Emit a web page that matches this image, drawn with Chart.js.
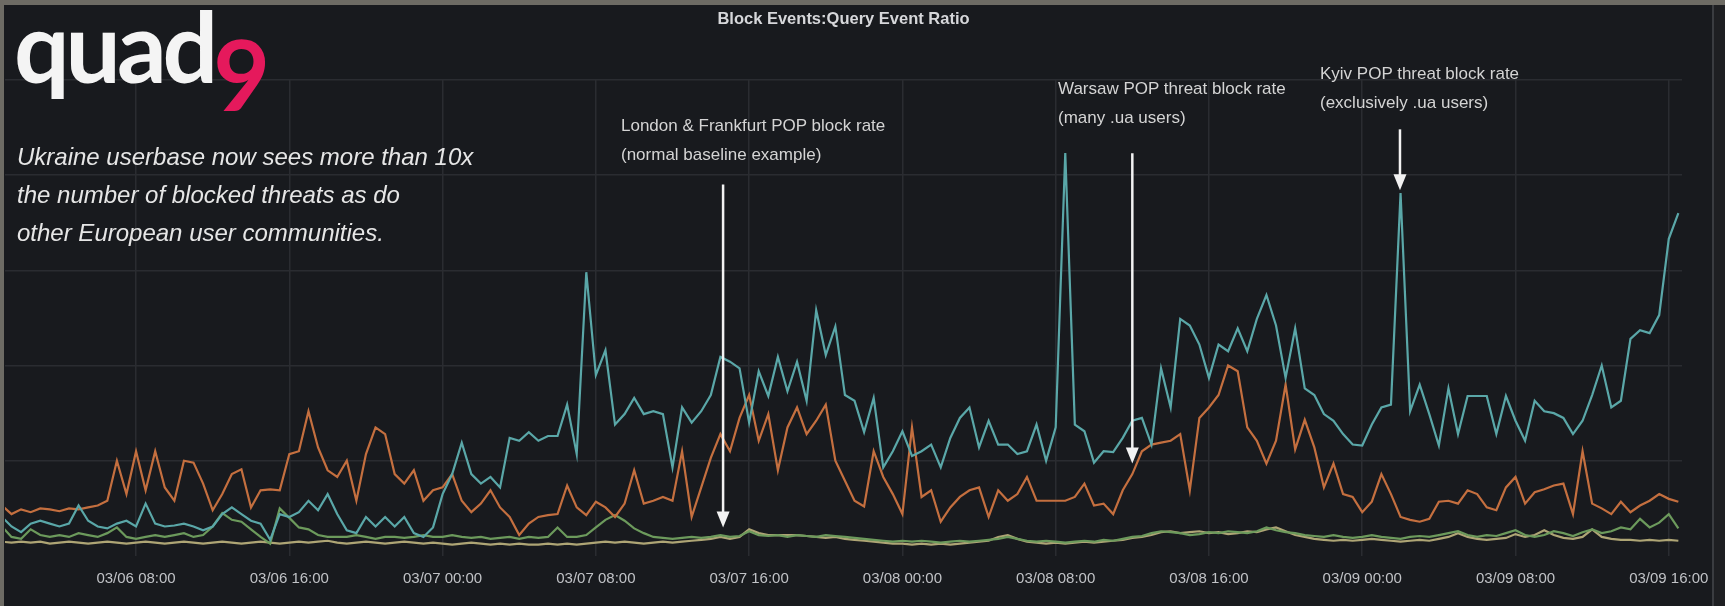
<!DOCTYPE html>
<html>
<head>
<meta charset="utf-8">
<script src="https://cdn.jsdelivr.net/npm/chart.js@4.4.1/dist/chart.umd.min.js"></script>
<style>
  html, body { margin: 0; padding: 0; }
  body { width: 1725px; height: 606px; overflow: hidden; background: #6d6b64; position: relative; }
  #panel { position: absolute; left: 0; top: 0; width: 1725px; height: 606px; background: #181a1e; }
  #edgeTop { position: absolute; left: 0; top: 0; width: 1725px; height: 5px; background: #6d6b64; z-index: 3; }
  #edgeLeft { position: absolute; left: 0; top: 0; width: 4px; height: 606px; background: #6d6b64; z-index: 3; }
  #edgeRight { position: absolute; left: 1712px; top: 5px; width: 2px; height: 601px; background: #3a3c40; z-index: 3; }
  #edgeRight2 { position: absolute; left: 1714px; top: 5px; width: 11px; height: 601px; background: #1e1f22; z-index: 3; }
  .txt { position: absolute; z-index: 4; white-space: nowrap; }
  #logo { left: 14px; top: -14px; font-family: Lato, sans-serif; font-weight: 700; font-size: 98px; color: #f4f4f4; letter-spacing: -4px; }
  #logo span { color: #e5195c; position: relative; top: 28px; margin-left: -1px; }
  #blurb { left: 17px; top: 138px; font-family: "Liberation Sans", Arial, sans-serif; font-style: italic; font-size: 24px; line-height: 38px; color: #e6e6e6; }
  .note { font-family: "Liberation Sans", Arial, sans-serif; font-size: 17px; line-height: 29px; color: #d4d4d4; }
  #chartBox { position: absolute; left: 0; top: 0; width: 1725px; height: 606px; }
</style>
</head>
<body>
<div id="panel"></div>
<div id="chartBox"><canvas id="ratioChart"></canvas></div>
<div id="edgeTop"></div>
<div id="edgeLeft"></div>
<div id="edgeRight"></div>
<div id="edgeRight2"></div>

<div class="txt" id="logo">quad<span>9</span></div>
<div class="txt" id="blurb">Ukraine userbase now sees more than 10x<br>the number of blocked threats as do<br>other European user communities.</div>
<div class="txt note" style="left:621px; top:111px;">London &amp; Frankfurt POP block rate<br>(normal baseline example)</div>
<div class="txt note" style="left:1058px; top:74px;">Warsaw POP threat block rate<br>(many .ua users)</div>
<div class="txt note" style="left:1320px; top:59px;">Kyiv POP threat block rate<br>(exclusively .ua users)</div>

<script>
// samples every 30 min, first one at 03/06 01:00 (hours counted from 03/06 00:00)
const START_HOUR = 1.0;
const STEP_HOURS = 0.5;

// Kyiv POP (teal)
const kyivRatio = [
  0.41, 0.31, 0.25, 0.34, 0.37, 0.34, 0.31, 0.34, 0.53, 0.37,
  0.31, 0.29, 0.34, 0.37, 0.31, 0.55, 0.34, 0.31, 0.32, 0.34,
  0.31, 0.27, 0.31, 0.44, 0.51, 0.44, 0.37, 0.34, 0.17, 0.44,
  0.41, 0.46, 0.58, 0.48, 0.65, 0.44, 0.27, 0.24, 0.41, 0.31,
  0.41, 0.31, 0.41, 0.24, 0.2, 0.3, 0.65, 0.86, 1.19, 0.86,
  0.76, 0.83, 0.72, 1.24, 1.21, 1.3, 1.21, 1.26, 1.26, 1.59,
  1.07, 2.98, 1.9, 2.16, 1.38, 1.49, 1.66, 1.49, 1.52, 1.49,
  0.93, 1.56, 1.4, 1.52, 1.69, 2.09, 2.04, 1.97, 1.4, 1.94,
  1.68, 2.09, 1.73, 2.04, 1.63, 2.58, 2.11, 2.41, 1.69, 1.63,
  1.3, 1.66, 0.93, 1.1, 1.31, 1.05, 1.1, 1.17, 0.93, 1.24,
  1.45, 1.56, 1.14, 1.42, 1.17, 1.17, 1.07, 1.1, 1.38, 1.0,
  1.35, 4.23, 1.38, 1.31, 0.98, 1.1, 1.09, 1.24, 1.42, 1.45,
  1.17, 1.97, 1.56, 2.49, 2.42, 2.22, 1.87, 2.22, 2.15, 2.39,
  2.15, 2.49, 2.74, 2.42, 1.87, 2.39, 1.76, 1.69, 1.49, 1.42,
  1.28, 1.17, 1.16, 1.38, 1.56, 1.59, 3.81, 1.52, 1.8, 1.49,
  1.16, 1.76, 1.28, 1.68, 1.68, 1.68, 1.28, 1.68, 1.42, 1.21,
  1.63, 1.52, 1.5, 1.45, 1.28, 1.42, 1.69, 2.0, 1.56, 1.63,
  2.28, 2.37, 2.34, 2.53, 3.33, 3.6
];

// Warsaw POP (orange)
const warsawRatio = [
  0.53, 0.44, 0.49, 0.46, 0.5, 0.49, 0.47, 0.5, 0.49, 0.51,
  0.53, 0.58, 1.0, 0.65, 1.1, 0.69, 1.1, 0.72, 0.58, 1.0,
  0.98, 0.76, 0.48, 0.65, 0.86, 0.91, 0.51, 0.69, 0.7, 0.69,
  1.07, 1.1, 1.52, 1.14, 0.9, 0.83, 1.0, 0.58, 1.07, 1.35,
  1.28, 0.86, 0.76, 0.9, 0.58, 0.69, 0.72, 0.86, 0.58, 0.46,
  0.55, 0.69, 0.51, 0.41, 0.22, 0.34, 0.41, 0.43, 0.44, 0.74,
  0.51, 0.43, 0.57, 0.51, 0.41, 0.55, 0.9, 0.55, 0.58, 0.62,
  0.58, 1.1, 0.41, 0.72, 1.03, 1.28, 1.1, 1.45, 1.69, 1.21,
  1.49, 0.9, 1.35, 1.56, 1.28, 1.42, 1.59, 1.0, 0.79, 0.58,
  0.52, 1.1, 0.83, 0.65, 0.44, 1.35, 0.62, 0.69, 0.36, 0.51,
  0.62, 0.69, 0.72, 0.41, 0.69, 0.58, 0.65, 0.83, 0.58, 0.58,
  0.58, 0.58, 0.62, 0.76, 0.53, 0.55, 0.44, 0.69, 0.86, 1.1,
  1.17, 1.19, 1.21, 1.28, 0.69, 1.45, 1.56, 1.69, 2.0, 1.94,
  1.35, 1.21, 0.97, 1.21, 1.8, 1.12, 1.43, 1.14, 0.72, 0.97,
  0.65, 0.62, 0.46, 0.57, 0.86, 0.65, 0.41, 0.38, 0.36, 0.39,
  0.57, 0.58, 0.55, 0.69, 0.65, 0.51, 0.48, 0.72, 0.83, 0.55,
  0.67, 0.7, 0.74, 0.76, 0.44, 1.1, 0.55, 0.5, 0.44, 0.57,
  0.46, 0.53, 0.58, 0.65, 0.6, 0.57
];

// London POP (green)
const londonRatio = [
  0.31, 0.2, 0.18, 0.28, 0.22, 0.2, 0.22, 0.2, 0.24, 0.22,
  0.2, 0.24, 0.3, 0.2, 0.18, 0.2, 0.22, 0.2, 0.22, 0.24,
  0.2, 0.22, 0.31, 0.45, 0.38, 0.36, 0.28, 0.2, 0.13, 0.5,
  0.4, 0.3, 0.28, 0.22, 0.2, 0.2, 0.2, 0.22, 0.2, 0.18,
  0.2, 0.2, 0.19, 0.2, 0.22, 0.2, 0.2, 0.22, 0.2, 0.19,
  0.2, 0.18, 0.19, 0.2, 0.18, 0.2, 0.19, 0.2, 0.3, 0.2,
  0.2, 0.22, 0.3, 0.38, 0.43, 0.37, 0.29, 0.24, 0.2, 0.19,
  0.18, 0.19, 0.2, 0.19, 0.2, 0.22, 0.2, 0.21, 0.26, 0.22,
  0.21, 0.22, 0.2, 0.22, 0.21, 0.2, 0.22, 0.21, 0.2, 0.19,
  0.18, 0.17, 0.16, 0.15, 0.16, 0.15, 0.16, 0.15, 0.14, 0.15,
  0.16, 0.15, 0.16, 0.17, 0.18, 0.2, 0.18, 0.16, 0.15, 0.16,
  0.15, 0.14, 0.15, 0.16, 0.15, 0.17, 0.16, 0.18, 0.2, 0.21,
  0.24, 0.26, 0.25, 0.24, 0.22, 0.23, 0.25, 0.24, 0.26, 0.25,
  0.24, 0.26, 0.3, 0.27, 0.25, 0.24, 0.22, 0.21, 0.2, 0.22,
  0.2, 0.19, 0.2, 0.22, 0.2, 0.19, 0.18, 0.2, 0.21, 0.2,
  0.22, 0.24, 0.26, 0.22, 0.2, 0.22, 0.21, 0.24, 0.27, 0.22,
  0.2, 0.22, 0.26, 0.24, 0.21, 0.25, 0.28, 0.24, 0.26, 0.3,
  0.28, 0.39, 0.3, 0.35, 0.44, 0.29
];

// Frankfurt POP (khaki)
const frankfurtRatio = [
  0.15, 0.14, 0.15, 0.14, 0.15, 0.13, 0.14, 0.15, 0.14, 0.13,
  0.14, 0.15, 0.14, 0.13, 0.14, 0.15, 0.14, 0.13, 0.14, 0.15,
  0.14, 0.13, 0.14, 0.15, 0.14, 0.13, 0.14, 0.15, 0.14, 0.13,
  0.14, 0.15, 0.14, 0.15, 0.16, 0.14, 0.13, 0.14, 0.15, 0.14,
  0.13, 0.14, 0.15, 0.14, 0.13, 0.14, 0.13, 0.12, 0.13, 0.14,
  0.13, 0.12, 0.13, 0.12, 0.13, 0.12, 0.12, 0.13, 0.12, 0.13,
  0.12, 0.13, 0.14, 0.15, 0.14, 0.15, 0.14, 0.13, 0.14, 0.15,
  0.14, 0.15, 0.16, 0.17, 0.18, 0.2, 0.18, 0.2, 0.28, 0.24,
  0.22, 0.22, 0.22, 0.22, 0.21, 0.2, 0.19, 0.2, 0.18, 0.17,
  0.16, 0.15, 0.14, 0.13, 0.13, 0.12, 0.13, 0.12, 0.13, 0.12,
  0.13, 0.14, 0.15, 0.16, 0.2, 0.22, 0.18, 0.15, 0.14, 0.13,
  0.14, 0.13, 0.14, 0.15, 0.14, 0.15, 0.16, 0.17, 0.19, 0.2,
  0.22, 0.25, 0.26, 0.24, 0.25, 0.26, 0.24, 0.25, 0.23, 0.24,
  0.26, 0.25, 0.28, 0.3, 0.26, 0.22, 0.2, 0.18, 0.17, 0.16,
  0.17, 0.16, 0.17, 0.18, 0.17, 0.16, 0.15, 0.16, 0.17, 0.16,
  0.18, 0.2, 0.24, 0.2, 0.18, 0.17, 0.18, 0.19, 0.23, 0.2,
  0.22, 0.27, 0.22, 0.19, 0.18, 0.2, 0.28, 0.2, 0.18, 0.17,
  0.17, 0.16, 0.17, 0.16, 0.17, 0.16
];

const tickHours = [8, 16, 24, 32, 40, 48, 56, 64, 72, 80, 88];
const tickLabels = ['03/06 08:00', '03/06 16:00', '03/07 00:00', '03/07 08:00', '03/07 16:00',
  '03/08 00:00', '03/08 08:00', '03/08 16:00', '03/09 00:00', '03/09 08:00', '03/09 16:00'];

// arrows: hour position, value at the top of the shaft, value at the tip
const arrows = [
  { hour: 38.64, top: 3.9, tip: 0.3 },
  { hour: 60.0, top: 4.23, tip: 0.97 },
  { hour: 73.97, top: 4.48, tip: 3.84 }
];

const gridColor = '#2a2c31';

function toPoints(values) {
  return values.map((v, i) => ({ x: START_HOUR + i * STEP_HOURS, y: v }));
}

const arrowPlugin = {
  id: 'arrows',
  afterDatasetsDraw(chart) {
    const { ctx, scales } = chart;
    ctx.save();
    ctx.strokeStyle = '#f2f2f2';
    ctx.fillStyle = '#f2f2f2';
    ctx.lineWidth = 2.5;
    arrows.forEach(a => {
      const x = scales.x.getPixelForValue(a.hour);
      const y1 = scales.y.getPixelForValue(a.top);
      const y2 = scales.y.getPixelForValue(a.tip);
      ctx.beginPath();
      ctx.moveTo(x, y1);
      ctx.lineTo(x, y2 - 14);
      ctx.stroke();
      ctx.beginPath();
      ctx.moveTo(x - 6.5, y2 - 16);
      ctx.lineTo(x + 6.5, y2 - 16);
      ctx.lineTo(x, y2);
      ctx.closePath();
      ctx.fill();
    });
    ctx.restore();
  }
};

const lineStyle = { borderWidth: 2.2, pointRadius: 0, tension: 0, fill: false };

new Chart(document.getElementById('ratioChart'), {
  type: 'line',
  data: {
    datasets: [
      { label: 'Kyiv', data: toPoints(kyivRatio), borderColor: '#5aa7a8', ...lineStyle },
      { label: 'Warsaw', data: toPoints(warsawRatio), borderColor: '#c46f3f', ...lineStyle },
      { label: 'London', data: toPoints(londonRatio), borderColor: '#6c9a5c', ...lineStyle },
      { label: 'Frankfurt', data: toPoints(frankfurtRatio), borderColor: '#aea575', ...lineStyle }
    ]
  },
  options: {
    responsive: true,
    maintainAspectRatio: false,
    animation: false,
    layout: { padding: { left: 5, right: 43, top: 0, bottom: 0 } },
    plugins: {
      legend: { display: false },
      tooltip: { enabled: false },
      title: {
        display: true,
        text: 'Block Events:Query Event Ratio',
        color: '#d6d7da',
        font: { family: 'Liberation Sans, Arial, sans-serif', size: 16.5, weight: 'bold' },
        padding: { top: 10, bottom: 50 }
      }
    },
    scales: {
      x: {
        type: 'linear',
        min: 1.16,
        max: 88.69,
        afterBuildTicks: scale => { scale.ticks = tickHours.map(h => ({ value: h })); },
        afterFit: scale => { scale.height = 50; },
        ticks: {
          color: '#c0c2c6',
          font: { family: 'Liberation Sans, Arial, sans-serif', size: 15 },
          padding: 14,
          maxRotation: 0,
          autoSkip: false,
          callback: v => tickLabels[tickHours.indexOf(v)]
        },
        grid: { color: gridColor, lineWidth: 1.5, drawTicks: false },
        border: { display: false }
      },
      y: {
        min: 0,
        max: 5,
        afterFit: scale => { scale.width = 0; },
        ticks: { display: false, stepSize: 1 },
        grid: {
          color: c => (c.tick && c.tick.value === 0 ? 'rgba(0,0,0,0)' : gridColor),
          lineWidth: 1.5,
          drawTicks: false
        },
        border: { display: false }
      }
    }
  },
  plugins: [arrowPlugin]
});
</script>
</body>
</html>
